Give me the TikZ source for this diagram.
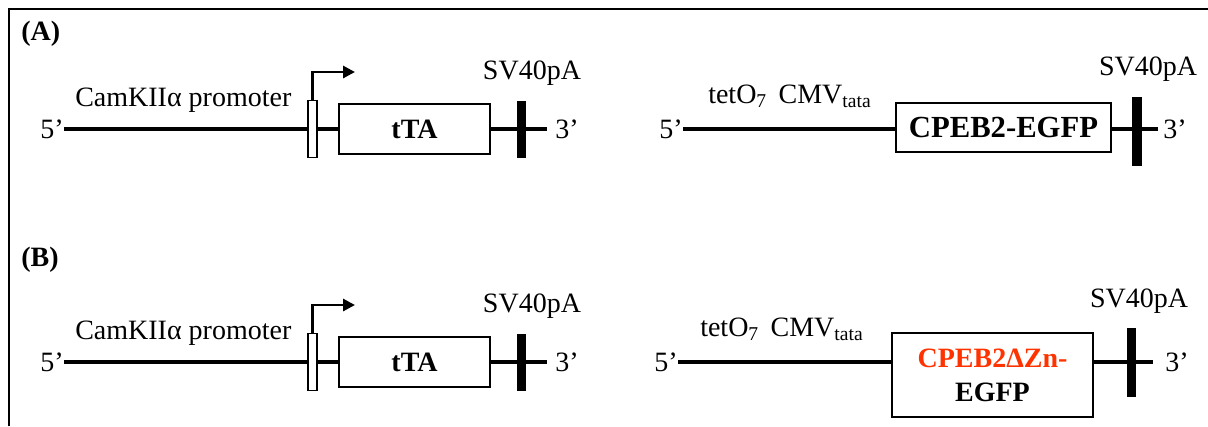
\documentclass[tikz,border=0pt]{standalone}
\usepackage{fontspec}
\setmainfont{Liberation Serif}
\usepackage{xcolor}
\usetikzlibrary{arrows.meta,positioning}
\definecolor{znred}{RGB}{255,51,0}

\begin{document}
\begin{tikzpicture}[x=0.75pt,y=-0.75pt,
  txt/.style={font=\fontsize{21}{25}\selectfont, inner sep=0pt},
  gene/.style={draw, line width=1pt, fill=white, inner sep=0pt, align=center,
    font=\fontsize{21}{25.5}\selectfont\bfseries},
  prombox/.style={draw, line width=0.8pt, fill=white, inner sep=0pt,
    minimum width=6.75pt, minimum height=42.75pt},
  pabar/.style={fill=black, inner sep=0pt, minimum width=7pt},
  dna/.style={line width=3pt},
  tss/.style={line width=2.2pt, -{Triangle[length=9pt,width=9pt]}}]
\useasboundingbox (0,0) rectangle (1208,426);
\draw[line width=2.2pt] (9,426) -- (9,9) -- (1208,9);

\foreach \row/\y/\ly in {A/129/34,B/362/260} {
    \node[txt, font=\fontsize{21}{25}\selectfont\bfseries, anchor=west] (lab\row) at (21,\ly) {(\row)};
    \node[txt, anchor=east] (five\row) at (64,\y) {5’};
    \node[txt, anchor=base west] (cam\row) at (75,\y-23) {CamKIIα promoter};
    \node[prombox] (prom\row) at (312.5,\y) {};
    \node[gene, minimum width=113.25pt, minimum height=37.5pt] (tta\row) at (414.5,\y) {tTA};
    \node[pabar, minimum height=42.75pt] (pa\row) at (521.5,\y) {};
    \node[txt, anchor=base] (sv\row) at (532,\y-50) {SV40pA};
    \coordinate (tail\row) at (547,\y);
    \node[txt, anchor=west] (three\row) at (555,\y) {3’};
    \coordinate (tss\row) at (355,\y-57);
    \draw[dna] (five\row.east) -- (prom\row.west);
    \draw[dna] (prom\row.east) -- (tta\row.west);
    \draw[dna] (tta\row.east) -- (tail\row);
    \draw[tss] (prom\row.north) |- (tss\row);
}

\node[txt, anchor=east] (fiveC) at (683,129) {5’};
\node[txt, anchor=base west] (tetC) at (708,103) {tetO\textsubscript{7}\, CMV\textsubscript{tata}};
\node[gene, minimum width=161.25pt, minimum height=36.75pt,
  font=\fontsize{23}{27}\selectfont\bfseries] (cpeb) at (1003.5,127.5) {CPEB2-EGFP};
\node[pabar, minimum width=7.5pt, minimum height=51.75pt] (paC) at (1137,131.5) {};
\node[txt, anchor=base] (svC) at (1148,75) {SV40pA};
\coordinate (tailC) at (1158,129);
\node[txt, anchor=west] (threeC) at (1163,129) {3’};
\draw[dna] (fiveC.east) -- (cpeb.west |- fiveC.east);
\draw[dna] (cpeb.east |- tailC) -- (tailC);

\node[txt, anchor=east] (fiveD) at (678,362) {5’};
\node[txt, anchor=base west] (tetD) at (700,336) {tetO\textsubscript{7}\, CMV\textsubscript{tata}};
\node[gene, minimum width=150.75pt, minimum height=63pt] (cpebzn) at (992.5,375) {\textcolor{znred}{CPEB2ΔZn-}\\EGFP};
\node[pabar, minimum width=6.75pt, minimum height=51.75pt] (paD) at (1131.5,362.5) {};
\node[txt, anchor=base] (svD) at (1139,307) {SV40pA};
\coordinate (tailD) at (1153,362);
\node[txt, anchor=west] (threeD) at (1165,362) {3’};
\draw[dna] (fiveD.east) -- (cpebzn.west |- fiveD.east);
\draw[dna] (cpebzn.east |- tailD) -- (tailD);
\end{tikzpicture}
\end{document}
